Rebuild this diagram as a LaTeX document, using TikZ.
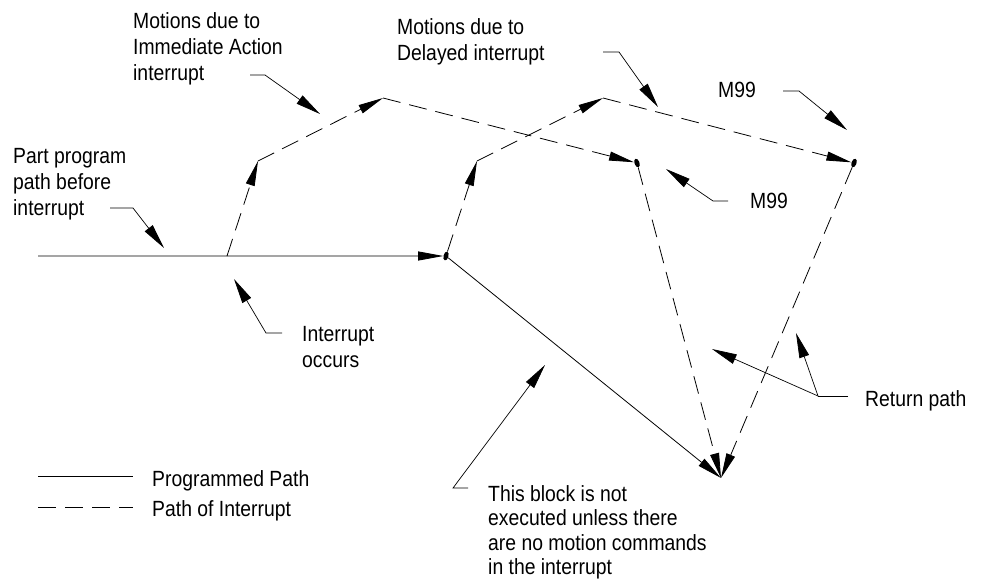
\documentclass[tikz,border=0pt]{standalone}
\usepackage{fontspec}
\setmainfont[FakeStretch=0.88]{Liberation Sans}
\usetikzlibrary{arrows.meta,shapes.geometric}

\begin{document}
\begin{tikzpicture}[
  x=1pt, y=-1pt,
  font=\fontsize{22}{26}\selectfont,
  lbl/.style={anchor=north west, align=left, inner sep=0pt},
  prog/.style={line width=0.8pt},
  intr/.style={line width=0.8pt, dash pattern=on 18pt off 9pt},
  arr/.style={-{Triangle[length=25pt,width=9pt]}},
  lead/.style={line width=0.7pt},
  leadarr/.style={lead, -{Triangle[length=25pt,width=10pt]}},
  blob/.style={ellipse, fill, inner sep=0pt, minimum width=5pt, minimum height=9pt}
]
  \useasboundingbox (0,0) rectangle (990,583);

  % path points
  \coordinate (start) at (38,256);
  \coordinate (irq) at (227,256);
  \node[blob, rotate=-15] (blk) at (446,256) {};
  \coordinate (im1) at (258,161);
  \coordinate (im2) at (383,98);
  \node[blob, rotate=20] (imend) at (637,163) {};
  \coordinate (dl1) at (477,161);
  \coordinate (dl2) at (603,98);
  \node[blob, rotate=-20] (dlend) at (854,163) {};
  \coordinate (ret) at (721,478);

  % programmed path
  \draw[prog, arr] (start) -- (blk);
  \draw[prog, arr] (blk) -- (ret);

  % immediate action interrupt
  \draw[intr, arr] (irq) -- (im1);
  \draw[intr, arr] (im1) -- (im2);
  \draw[intr, arr] (im2) -- (imend);
  \draw[intr, arr] (imend) -- (ret);

  % delayed interrupt
  \draw[intr, arr] (blk) -- (dl1);
  \draw[intr, arr] (dl1) -- (dl2);
  \draw[intr, arr] (dl2) -- (dlend);
  \draw[intr, arr] (dlend) -- (ret);

  % labels
  \node[lbl] (partlbl) at (13,148) {Part program\\path before\\interrupt};
  \node[lbl] (immlbl) at (133,12) {Motions due to\\Immediate Action\\interrupt};
  \node[lbl] (dellbl) at (397,18) {Motions due to\\Delayed interrupt};
  \node[lbl] (mupper) at (718,82) {M99};
  \node[lbl] (mlower) at (750,193) {M99};
  \node[lbl] (occlbl) at (302,326) {Interrupt\\occurs};
  \node[lbl, font=\fontsize{22}{24.5}\selectfont] (blklbl) at (488,485)
    {This block is not\\executed unless there\\are no motion commands\\in the interrupt};
  \node[lbl] (retlbl) at (865,390) {Return path};

  % leaders
  \coordinate (partA) at (110,208);  \coordinate (partT) at (164,248);
  \coordinate (immA) at (250,75);    \coordinate (immT) at (320,114);
  \coordinate (delA) at (603,52);    \coordinate (delT) at (658,107);
  \coordinate (muA) at (783,91);     \coordinate (muT) at (847,130);
  \coordinate (mlA) at (728,201);    \coordinate (mlT) at (666,169);
  \coordinate (occA) at (282,333);   \coordinate (occT) at (234,279);
  \coordinate (blkA) at (468,488);   \coordinate (blkT) at (545,365);
  \coordinate (retA) at (848,396);   \coordinate (retK) at (818,396);
  \coordinate (retT1) at (712,349);  \coordinate (retT2) at (796,333);

  \draw[leadarr] (partA) -- ++(23,0) -- (partT);
  \draw[leadarr] (immA) -- ++(15,0) -- (immT);
  \draw[leadarr] (delA) -- ++(16,0) -- (delT);
  \draw[leadarr] (muA) -- ++(16,0) -- (muT);
  \draw[leadarr] (mlA) -- ++(-15,0) -- (mlT);
  \draw[leadarr] (occA) -- ++(-16,0) -- (occT);
  \draw[leadarr] (blkA) -- ++(-15,0) -- (blkT);
  \draw[lead] (retA) -- (retK);
  \draw[leadarr] (retK) -- (retT1);
  \draw[leadarr] (retK) -- (retT2);

  % legend
  \coordinate (lg1a) at (38,476);  \coordinate (lg1b) at (133,476);
  \coordinate (lg2a) at (38,507);  \coordinate (lg2b) at (133,507);
  \draw[prog] (lg1a) -- (lg1b);
  \draw[intr] (lg2a) -- (lg2b);
  \node[lbl] (lgprog) at (152,470) {Programmed Path};
  \node[lbl] (lgintr) at (152,500) {Path of Interrupt};
\end{tikzpicture}
\end{document}
